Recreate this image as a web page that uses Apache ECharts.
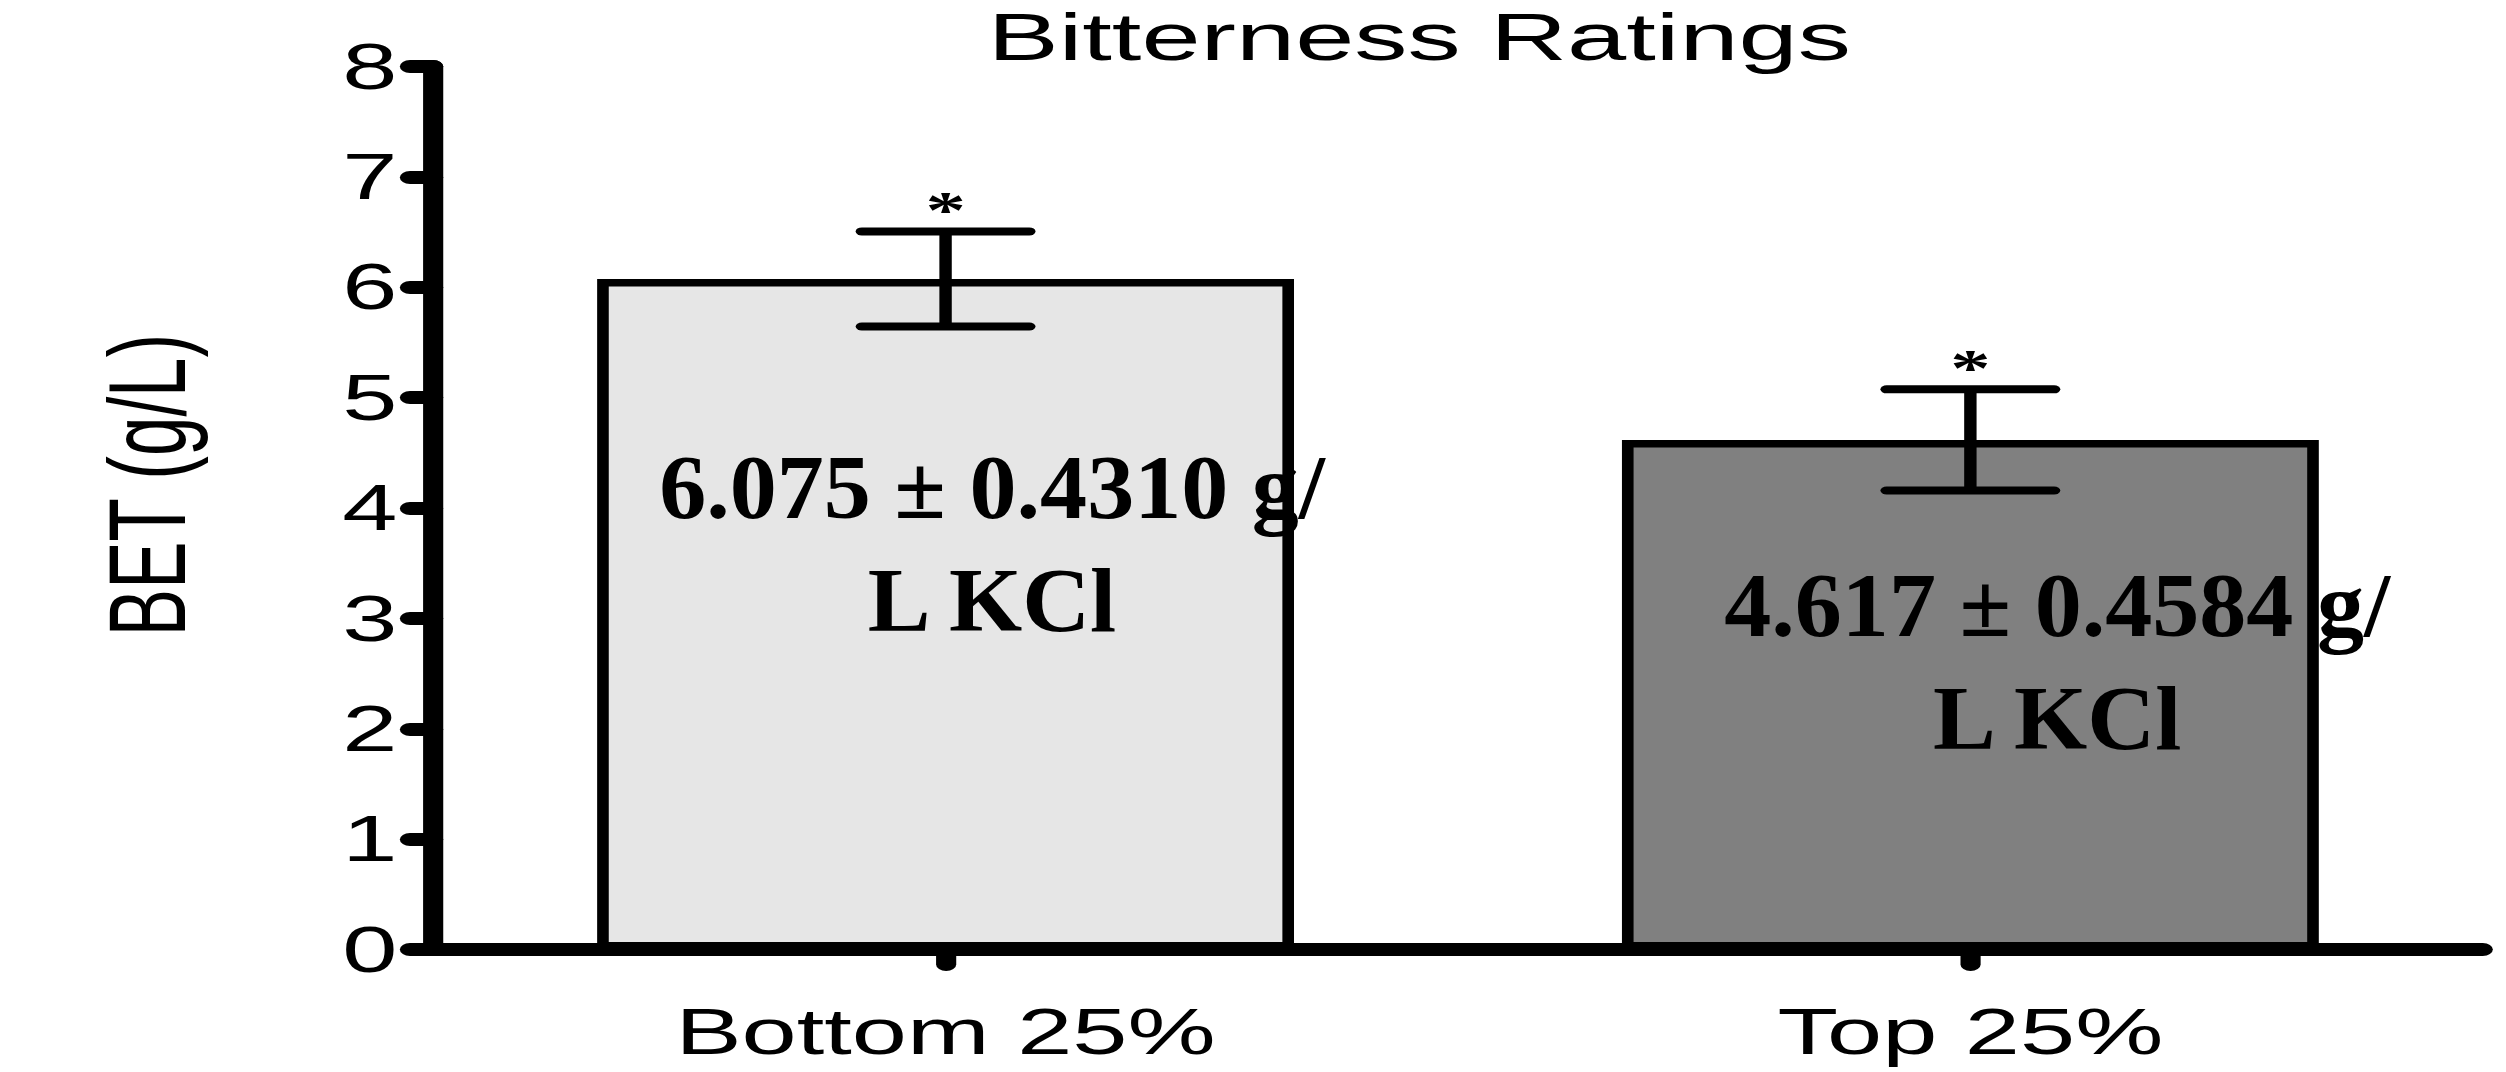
<!DOCTYPE html>
<html>
<head>
<meta charset="utf-8">
<script src="https://cdn.jsdelivr.net/npm/echarts@6/dist/echarts.min.js"></script>
<style>
  html, body { margin: 0; padding: 0; background: #fff; overflow: hidden; width: 2506px; height: 1072px; }
  #chart { width: 1617px; height: 1072px; transform: scaleX(1.5498); transform-origin: 0 0; }
</style>
</head>
<body>
<div id="chart"></div>
<script>
// ---- data ----
const categories = ['Bottom 25%', 'Top 25%'];
const means = [6.075, 4.617];
const errors = [0.4310, 0.4584];
const valueLabels = ['6.075 ± 0.4310 g/\nL KCl', '4.617 ± 0.4584 g/\nL KCl'];
const significance = ['*', '*'];
const yTickLabels = ['0', '1', '2', '3', '4', '5', '6', '7', '8'];
const titleText = 'Bitterness Ratings';
const yAxisName = 'BET (g/L)';

// ---- styles / layout ----
const barColors = ['#e6e6e6', '#808080'];
const labelShift = [30, 56];   // px right of bar centre
const labelDrop = [239, 196];  // px from bar top to first-line baseline
const CAP_RATIO = 0.0817;      // half cap width as fraction of category width
const LABEL_FS = 92, LABEL_LH = 113;

const chart = echarts.init(document.getElementById('chart'), null, { renderer: 'svg' });

const option = {
  backgroundColor: '#ffffff',
  animation: false,
  grid: { left: 279.5, right: 15, top: 66.5, bottom: 122.5, containLabel: false },
  graphic: [{
    type: 'text', x: 915.8, y: 37, scaleX: 1.04,
    style: { text: titleText, fontSize: 66, lineHeight: 56, fontFamily: 'Liberation Sans', fill: '#000', align: 'center', verticalAlign: 'middle' }
  }],
  xAxis: {
    type: 'category',
    data: categories,
    boundaryGap: true,
    axisLine: { show: true, lineStyle: { color: '#000', width: 13 } },
    axisTick: { show: true, alignWithLabel: true, length: 15, lineStyle: { color: '#000', width: 13, cap: 'round' } },
    axisLabel: { color: '#000', fontSize: 64, fontFamily: 'Liberation Sans', margin: 50 },
    splitLine: { show: false }
  },
  yAxis: {
    type: 'value',
    min: 0, max: 8, interval: 1,
    name: yAxisName,
    nameLocation: 'middle',
    nameRotate: 90,
    nameGap: 149,
    nameTextStyle: { fontSize: 71, fontFamily: 'Liberation Sans', color: '#000', padding: [0, 0, 0, 46] },
    axisLine: { show: true, lineStyle: { color: '#000', width: 13, cap: 'round' } },
    axisTick: { show: true, length: 15, lineStyle: { color: '#000', width: 13, cap: 'round' } },
    axisLabel: { color: '#000', fontSize: 64, fontFamily: 'Liberation Sans', margin: 23,
      formatter: v => yTickLabels[Math.round(v)] },
    splitLine: { show: false }
  },
  series: [
    {
      type: 'bar',
      silent: true,
      z: 2,
      barWidth: '68%',
      data: means.map((v, i) => ({ value: v, itemStyle: { color: barColors[i] } })),
      itemStyle: { borderColor: '#000', borderWidth: 7.5 }
    },
    {
      type: 'custom',
      silent: true,
      z: 10,
      data: means.map((m, i) => [i, m, errors[i]]),
      renderItem: function (params, api) {
        const i = api.value(0), m = api.value(1), e = api.value(2);
        const top = api.coord([i, m + e]);
        const bot = api.coord([i, m - e]);
        const barTop = api.coord([i, m]);
        const half = api.size([1, 0])[0] * CAP_RATIO;
        const capStyle = { stroke: '#000', lineWidth: 8, lineCap: 'round' };
        return {
          type: 'group',
          children: [
            { type: 'line', z2: 10, shape: { x1: top[0], y1: top[1], x2: bot[0], y2: bot[1] }, style: { stroke: '#000', lineWidth: 8 } },
            { type: 'line', z2: 10, shape: { x1: top[0] - half, y1: top[1], x2: top[0] + half, y2: top[1] }, style: capStyle },
            { type: 'line', z2: 10, shape: { x1: bot[0] - half, y1: bot[1], x2: bot[0] + half, y2: bot[1] }, style: capStyle },
            { type: 'text', z2: 10, x: top[0], y: top[1] - 20.5,
              style: { text: significance[i], fontSize: 52, fontWeight: 'bold', fontFamily: 'Liberation Serif', fill: '#000', align: 'center', verticalAlign: 'middle' } },
            { type: 'text', z2: 10, x: barTop[0] + labelShift[i], y: barTop[1] + labelDrop[i] - LABEL_LH / 2 - 0.3375 * LABEL_FS,
              scaleX: 0.66,
              style: { text: valueLabels[i], fontSize: LABEL_FS, fontWeight: 'bold', fontFamily: 'Liberation Serif', lineHeight: LABEL_LH, fill: '#000', align: 'center', verticalAlign: 'top' } }
          ]
        };
      }
    }
  ]
};
chart.setOption(option);
</script>
</body>
</html>
